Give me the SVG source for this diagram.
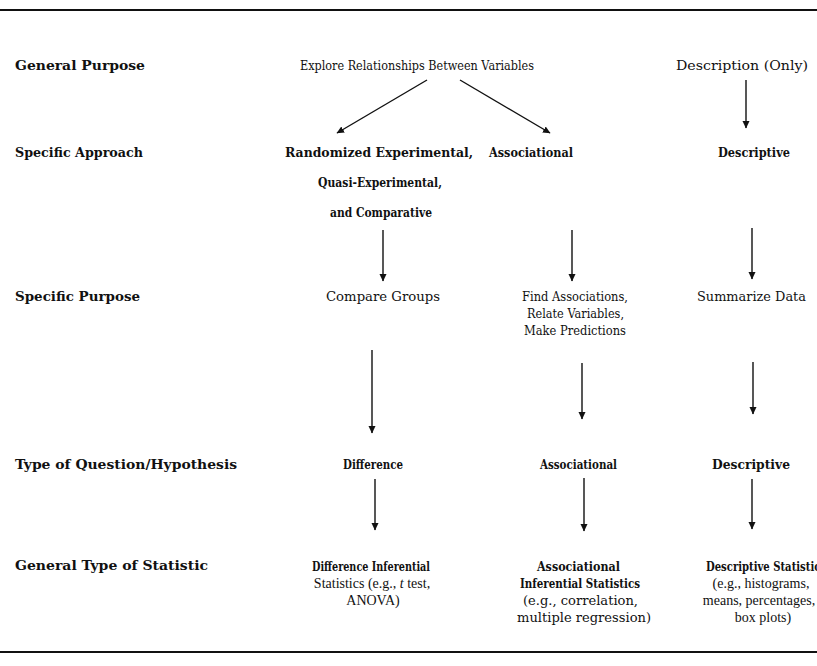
<svg xmlns="http://www.w3.org/2000/svg" width="817" height="666" viewBox="0 0 817 666">
<style>
text{font-family:"DejaVu Serif","Liberation Serif",serif;font-size:13.5px;fill:#111}
.b{font-weight:bold}
.t{font-family:"Liberation Serif","DejaVu Serif",serif;font-size:14px}
.c{stroke:#111;stroke-width:1.4;fill:none}
.rule{stroke:#111;stroke-width:2;fill:none}
</style>
<defs>
<marker id="ah" markerUnits="userSpaceOnUse" markerWidth="8" markerHeight="8" refX="7" refY="4" orient="auto">
<path d="M0,0.5 L7.5,4 L0,7.5 z" fill="#111"/>
</marker>
</defs>
<rect width="817" height="666" fill="#fff"/>
<line class="rule" x1="0" y1="10" x2="817" y2="10"/>
<line class="rule" x1="0" y1="652" x2="817" y2="652"/>

<g id="labels">
<text class="b" x="15" y="70" textLength="130" lengthAdjust="spacingAndGlyphs">General Purpose</text>
<text class="b" x="15" y="157" textLength="128" lengthAdjust="spacingAndGlyphs">Specific Approach</text>
<text class="b" x="15" y="301" textLength="125" lengthAdjust="spacingAndGlyphs">Specific Purpose</text>
<text class="b" x="15" y="469" textLength="222" lengthAdjust="spacingAndGlyphs">Type of Question/Hypothesis</text>
<text class="b" x="15" y="570" textLength="193" lengthAdjust="spacingAndGlyphs">General Type of Statistic</text>
</g>

<g id="explore"><text x="300" y="70" textLength="234" lengthAdjust="spacingAndGlyphs">Explore Relationships Between Variables</text></g>
<g id="description"><text x="676" y="70" textLength="132" lengthAdjust="spacingAndGlyphs">Description (Only)</text></g>

<g id="randomized">
<text class="b" x="285" y="157" textLength="188" lengthAdjust="spacingAndGlyphs">Randomized Experimental,</text>
<text class="b" x="318" y="187" textLength="124" lengthAdjust="spacingAndGlyphs">Quasi-Experimental,</text>
<text class="b" x="330" y="217" textLength="102" lengthAdjust="spacingAndGlyphs">and Comparative</text>
</g>
<g id="associational1"><text class="b" x="489" y="157" textLength="84" lengthAdjust="spacingAndGlyphs">Associational</text></g>
<g id="descriptive1"><text class="b" x="718" y="157" textLength="72" lengthAdjust="spacingAndGlyphs">Descriptive</text></g>

<g id="compare"><text x="326" y="301" textLength="114" lengthAdjust="spacingAndGlyphs">Compare Groups</text></g>
<g id="find">
<text x="522" y="301" textLength="106" lengthAdjust="spacingAndGlyphs">Find Associations,</text>
<text x="527" y="318" textLength="97" lengthAdjust="spacingAndGlyphs">Relate Variables,</text>
<text x="524" y="335" textLength="102" lengthAdjust="spacingAndGlyphs">Make Predictions</text>
</g>
<g id="summarize"><text x="697" y="301" textLength="109" lengthAdjust="spacingAndGlyphs">Summarize Data</text></g>

<g id="difference"><text class="b" x="343" y="469" textLength="60" lengthAdjust="spacingAndGlyphs">Difference</text></g>
<g id="associational2"><text class="b" x="540" y="469" textLength="77" lengthAdjust="spacingAndGlyphs">Associational</text></g>
<g id="descriptive2"><text class="b" x="712" y="469" textLength="78" lengthAdjust="spacingAndGlyphs">Descriptive</text></g>

<g id="diffstat">
<text class="b" x="312" y="571" textLength="118" lengthAdjust="spacingAndGlyphs">Difference Inferential</text>
<text class="t" x="372" y="588" text-anchor="middle">Statistics  (e.g., <tspan font-style="italic">t</tspan>  test,</text>
<text class="t" x="373" y="605" text-anchor="middle">ANOVA)</text>
</g>
<g id="assocstat">
<text class="b" x="537" y="571" textLength="83" lengthAdjust="spacingAndGlyphs">Associational</text>
<text class="b" x="520" y="588" textLength="120" lengthAdjust="spacingAndGlyphs">Inferential Statistics</text>
<text x="523" y="605" textLength="115" lengthAdjust="spacingAndGlyphs">(e.g., correlation,</text>
<text x="517" y="622" textLength="134" lengthAdjust="spacingAndGlyphs">multiple regression)</text>
</g>
<g id="descstat">
<text class="b" x="706" y="571" textLength="120" lengthAdjust="spacingAndGlyphs">Descriptive Statistics</text>
<text class="t" x="761" y="588" text-anchor="middle">(e.g., histograms,</text>
<text class="t" x="759" y="605" text-anchor="middle">means, percentages,</text>
<text class="t" x="763" y="622" text-anchor="middle">box plots)</text>
</g>

<g id="connectors">
<line class="c" x1="427" y1="80" x2="337" y2="133" marker-end="url(#ah)"/>
<line class="c" x1="460" y1="80" x2="550" y2="133" marker-end="url(#ah)"/>
<line class="c" x1="746" y1="80" x2="746" y2="128" marker-end="url(#ah)"/>
<line class="c" x1="383" y1="230" x2="383" y2="281" marker-end="url(#ah)"/>
<line class="c" x1="572" y1="230" x2="572" y2="281" marker-end="url(#ah)"/>
<line class="c" x1="752" y1="228" x2="752" y2="279" marker-end="url(#ah)"/>
<line class="c" x1="372" y1="350" x2="372" y2="433" marker-end="url(#ah)"/>
<line class="c" x1="582" y1="363" x2="582" y2="419" marker-end="url(#ah)"/>
<line class="c" x1="753" y1="362" x2="753" y2="414" marker-end="url(#ah)"/>
<line class="c" x1="375" y1="479" x2="375" y2="530" marker-end="url(#ah)"/>
<line class="c" x1="584" y1="478" x2="584" y2="531" marker-end="url(#ah)"/>
<line class="c" x1="752" y1="479" x2="752" y2="529" marker-end="url(#ah)"/>
</g>
</svg>
